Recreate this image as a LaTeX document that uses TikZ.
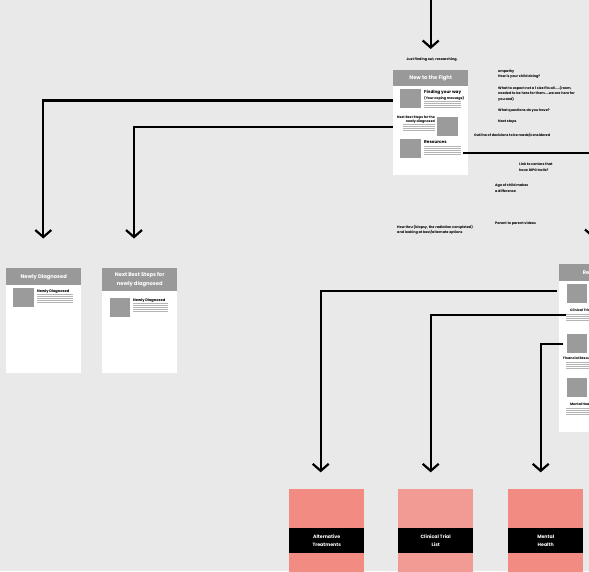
\documentclass[tikz,border=0pt]{standalone}
\usepackage{fontspec}
\setmainfont{Poppins}
\usetikzlibrary{arrows.meta}
\definecolor{bg}{HTML}{E9E9E9}
\definecolor{hdr}{HTML}{999999}
\definecolor{imgc}{HTML}{9B9B9B}
\definecolor{pinkA}{HTML}{F28B82}
\definecolor{pinkB}{HTML}{F29A94}
\definecolor{txtline}{HTML}{B4B4B4}
\tikzset{
  conn/.style={line width=2.2pt, -{Straight Barb[length=7pt,width=16pt,line width=2.2pt]}},
  card/.style={fill=white, draw=none, anchor=north west, minimum width=75pt, minimum height=105pt, inner sep=0pt},
  hdrbox/.style={fill=hdr, anchor=north, minimum width=75pt, inner sep=0pt, text=white, align=center, font=\bfseries\fontsize{5.2}{8}\selectfont},
  imgbox/.style={fill=imgc, anchor=north west, minimum width=21pt, minimum height=19pt, inner sep=0pt},
  ttl/.style={anchor=north west, inner sep=0pt, font=\bfseries\fontsize{4.2}{4.6}\selectfont},
  sttl/.style={anchor=north west, inner sep=0pt, font=\bfseries\fontsize{3.3}{4}\selectfont},
  note/.style={anchor=north west, inner sep=0pt, align=left, font=\bfseries\fontsize{3.4}{5.6}\selectfont},
  fillline/.style={line width=0.55pt, txtline},
  pinkbox/.style={anchor=north west, minimum width=75pt, minimum height=90pt, inner sep=0pt},
  band/.style={fill=black, anchor=north, minimum width=75pt, minimum height=25pt, inner sep=0pt, text=white, align=center, font=\bfseries\fontsize{4.7}{8}\selectfont}
}
\begin{document}
\begin{tikzpicture}[x=1pt,y=-1pt]
\fill[bg] (0,0) rectangle (589,571);
\useasboundingbox (0,0) rectangle (589,571);
\clip (0,0) rectangle (589,571);

% ---------- New to the Fight card ----------
\node[card] (nf) at (393,70) {};
\node[hdrbox, minimum height=16pt] (nfh) at (nf.north) {New to the Fight};
\node[imgbox] (nf1) at (400,89) {};
\node[ttl] (nft1) at (424,90) {Finding your way};
\node[sttl] (nfs1) at (424,96) {(Your coping message)};
\foreach \yy in {101.5,103.5,105.5,107.5} \draw[fillline] (424,\yy) -- (461,\yy);
\node[sttl, anchor=north east, align=right] (nft2) at (435,115.5) {Next Best Steps for the\\newly diagnosed};
\foreach \yy in {124.5,126.5,128.5,130.5} \draw[fillline] (403,\yy) -- (435,\yy);
\node[imgbox] (nf2) at (437,117) {};
\node[imgbox] (nf3) at (400,139) {};
\node[ttl] (nft3) at (424,140) {Resources};
\foreach \yy in {146.5,148.5,150.5,152.5,154.5} \draw[fillline] (424,\yy) -- (461,\yy);

% ---------- Newly Diagnosed card ----------
\node[card] (nd) at (6,268) {};
\node[hdrbox, minimum height=17pt] (ndh) at (nd.north) {Newly Diagnosed};
\node[imgbox, minimum width=21pt] (nd1) at (13,288) {};
\node[sttl, font=\bfseries\fontsize{3.6}{4}\selectfont] (ndt) at (37,289.5) {Newly Diagnosed};
\foreach \yy in {294.5,296.5,298.5,300.5,302.5} \draw[fillline] (37,\yy) -- (73,\yy);

% ---------- Next Best Steps card ----------
\node[card] (nb) at (102,268) {};
\node[hdrbox, minimum height=23pt, font=\bfseries\fontsize{5.2}{8.5}\selectfont] (nbh) at (nb.north) {Next Best Steps for\\newly diagnosed};
\node[imgbox, minimum width=20pt] (nb1) at (110,298) {};
\node[sttl, font=\bfseries\fontsize{3.6}{4}\selectfont] (nbt) at (133,298.5) {Newly Diagnosed};
\foreach \yy in {303.5,305.5,307.5,309.5,311.5} \draw[fillline] (133,\yy) -- (168,\yy);

% ---------- Resources card (right, partly off page) ----------
\node[card, minimum height=168pt] (rs) at (559,264) {};
\node[hdrbox, minimum height=17pt] (rsh) at (rs.north) {Resources};
\node[imgbox, minimum width=20pt] (rs1) at (567,284) {};
\node[sttl] (rst1) at (570,309) {Clinical Trials};
\foreach \yy in {314.5,316.5,318.5,320.5} \draw[fillline] (566,\yy) -- (600,\yy);
\node[imgbox, minimum width=20pt] (rs2) at (567,334) {};
\node[sttl] (rst2) at (563,357) {Financial Resources};
\foreach \yy in {362.5,364.5,366.5,368.5} \draw[fillline] (566,\yy) -- (600,\yy);
\node[imgbox, minimum width=20pt] (rs3) at (567,378) {};
\node[sttl] (rst3) at (570,403) {Mental Health};
\foreach \yy in {408.5,410.5,412.5,414.5} \draw[fillline] (566,\yy) -- (600,\yy);

% ---------- Bottom pink boxes ----------
\node[pinkbox, fill=pinkA] (alt) at (289,489) {};
\node[band] (altb) at ([yshift=-39pt]alt.north) {Alternative\\Treatments};
\node[pinkbox, fill=pinkB] (ct) at (398,489) {};
\node[band] (ctb) at ([yshift=-39pt]ct.north) {Clinical Trial\\List};
\node[pinkbox, fill=pinkA] (mh) at (508,489) {};
\node[band] (mhb) at ([yshift=-39pt]mh.north) {Mental\\Health};

% ---------- Notes ----------
\node[note, anchor=north] (n0) at (432,57.5) {Just finding out, researching.};
\node[note] (n1) at (498,69.5) {empathy\\How is your child doing?};
\node[note] (n2) at (498,86) {What to expect not a 1 size fits all.....(room,\\needed to be here for them....we are here for\\you and)};
\node[note] (n3) at (498,108.5) {What questions do you have?};
\node[note] (n4) at (498,119.5) {Next steps};
\node[note] (n5) at (474,133.5) {Outline of decisions to be made/considered};
\node[note] (n6) at (519,162.5) {Link to centers that\\have DIPG trails?};
\node[note] (n7) at (495,183.5) {Age of child makes\\a difference};
\node[note] (n8) at (495,221.5) {Parent to parent videos};
\node[note] (n9) at (397,225) {How thru (biopsy, the radiation completed)\\and looking at best/alternate options};

% ---------- Connectors ----------
\coordinate (t0) at (430.7,-5);
\coordinate (t1) at (430.7,49);
\draw[conn] (t0) -- (t1);

\coordinate (s1) at (393,100.5);
\coordinate (a1) at (43.3,238.5);
\draw[conn] (s1) -| (a1);
\coordinate (s2) at (393,126.7);
\coordinate (a2) at (134,238.5);
\draw[conn] (s2) -| (a2);
\coordinate (s3) at (463,152.7);
\coordinate (a3) at (593,238);
\draw[conn] (s3) -| (a3);

\coordinate (r1) at (557,290.7);
\coordinate (b1) at (320.7,472.3);
\draw[conn] (r1) -| (b1);
\coordinate (r2) at (565.7,315.3);
\coordinate (b2) at (430.7,472.3);
\draw[conn] (r2) -| (b2);
\coordinate (r3) at (563,344.3);
\coordinate (b3) at (540.7,472.3);
\draw[conn] (r3) -| (b3);
\end{tikzpicture}
\end{document}
